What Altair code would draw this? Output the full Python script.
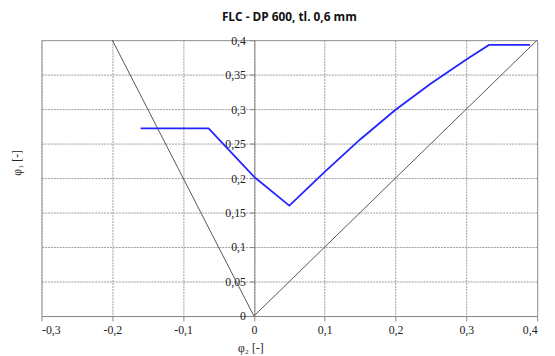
import altair as alt
import pandas as pd

# FLC curve (major strain phi1 vs minor strain phi2)
flc_phi2 = [-0.16, -0.064, 0.0, 0.05, 0.10, 0.15, 0.20, 0.25, 0.30, 0.332, 0.39]
flc_phi1 = [0.272, 0.272, 0.202, 0.16, 0.209, 0.256, 0.299, 0.337, 0.372, 0.393, 0.393]

# Reference lines
ref_phi2 = [-0.2, 0.0, 0.4]
ref_phi1 = [0.4, 0.0, 0.4]

x_ticks = [-0.3, -0.2, -0.1, 0.0, 0.1, 0.2, 0.3, 0.4]
y_ticks = [0.0, 0.05, 0.1, 0.15, 0.2, 0.25, 0.3, 0.35, 0.4]

flc = pd.DataFrame({"phi2": flc_phi2, "phi1": flc_phi1, "i": range(len(flc_phi2))})
ref = pd.DataFrame({"phi2": ref_phi2, "phi1": ref_phi1, "i": range(len(ref_phi2))})

label_expr = "replace(replace(format(datum.value, '.2~f'), '.', ','), '\u2212', '-')"

SERIF = "Liberation Serif, 'Times New Roman', 'DejaVu Serif', serif"

x_scale = alt.Scale(domain=[-0.3, 0.4], nice=False, zero=False)
y_scale = alt.Scale(domain=[0, 0.4], nice=False)

x_axis = alt.Axis(values=x_ticks, title="φ₂ [-]", labelExpr=label_expr,
                  labelFont=SERIF, titleFont=SERIF, labelFontSize=12, titleFontSize=12,
                  titleX=212, titleY=32, titleAlign="center", titleBaseline="middle")
y_axis = alt.Axis(values=y_ticks, title="φ₁ [-]", labelExpr=label_expr, tickCount=9,
                  labelFont=SERIF, titleFont=SERIF, labelFontSize=12, titleFontSize=12,
                  offset=-216, titleX=-241, titleY=124, titleAlign="center",
                  titleBaseline="middle", titleAngle=-90)

x_enc = alt.X("phi2:Q", scale=x_scale, axis=x_axis)
y_enc = alt.Y("phi1:Q", scale=y_scale, axis=y_axis)

ref_line = alt.Chart(ref).mark_line(color="#555555", strokeWidth=1).encode(
    x=x_enc, y=y_enc, order="i:O")
flc_line = alt.Chart(flc).mark_line(color="#2424ff", strokeWidth=1.8).encode(
    x=x_enc, y=y_enc, order="i:O")

chart = alt.layer(ref_line, flc_line).properties(
    width=503, height=280,
    background="white",
    title=alt.TitleParams("FLC - DP 600, tl. 0,6 mm", font="Open Sans", fontSize=12,
                          fontWeight="bold", color="#111", offset=10, anchor="middle"),
    autosize=alt.AutoSizeParams(type="none"),
    padding={"left": 34, "top": 30, "right": 10, "bottom": 40},
).configure_view(
    stroke="#999999", strokeWidth=1
).configure_axis(
    grid=True, gridColor="#9a9a9a", gridDash=[2, 1], gridWidth=1,
    domainColor="#888888", tickColor="#888888", tickSize=5,
    labelColor="#222", labelPadding=4, labelOverlap=False,
    titleFontWeight="normal", titleColor="#222",
)

chart.save("out.html", embed_options={"renderer": "svg", "actions": False})
